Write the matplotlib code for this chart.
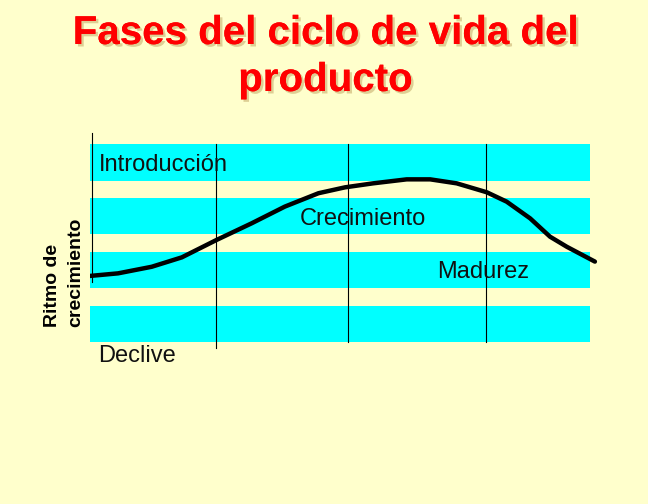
import numpy as np
import matplotlib
matplotlib.use("Agg")
import matplotlib.pyplot as plt
import matplotlib.patheffects as pe

### chart data (arbitrary units: time 0-100, growth rate 0-100)
title = "Fases del ciclo de vida del\nproducto"
ylabel = "Ritmo de\ncrecimiento"

# life cycle curve
curve_t = [0, 5.5, 12.1, 18.0, 24.8, 31.7, 38.2, 44.8, 50.0, 55.5, 62.1,
           66.7, 71.9, 77.8, 81.7, 86.3, 90.2, 93.5, 99.0]
curve_r = [37.9, 39.0, 41.8, 45.8, 53.2, 60.3, 67.4, 73.1, 75.6, 77.3, 79.0,
           79.0, 77.3, 73.5, 69.5, 62.4, 54.6, 50.3, 44.0]

# horizontal cyan bands (bottom, top)
band_lo = [78.3, 55.7, 32.8, 9.8]
band_hi = [94.0, 71.1, 48.1, 25.1]
band_end = 98.0

# phase boundaries (x, ymin, ymax)
phase_x = [0.3, 24.7, 50.6, 77.6]
phase_ymin = [35.3, 7.2, 9.8, 9.8]
phase_ymax = [98.7, 94.0, 94.0, 94.0]

# phase labels
phase_names = ["Introducción", "Crecimiento", "Madurez", "Declive"]
label_x = [1.8, 41.2, 68.0, 1.6]
label_y = [82.6, 59.6, 37.0, 1.3]

bg = "#ffffcc"
cyan = "#00ffff"

plt.rcParams["font.family"] = ["Liberation Sans", "DejaVu Sans"]

fig = plt.figure(figsize=(6.48, 5.04), dpi=100, facecolor=bg)
# axes box in figure pixels: x 90..600, y 130..365 (from top)
ax = fig.add_axes([90/648, 1-365/504, 510/648, 235/504])
ax.set_xlim(0, 100)
ax.set_ylim(0, 100)
ax.axis("off")

for lo, hi in zip(band_lo, band_hi):
    ax.fill_between([0, band_end], lo, hi, color=cyan, lw=0, zorder=1)

for x, y0, y1 in zip(phase_x, phase_ymin, phase_ymax):
    ax.plot([x, x], [y0, y1], color="black", lw=0.8, zorder=2)

ax.plot(curve_t, curve_r, color="black", lw=3.2, solid_capstyle="round",
        solid_joinstyle="round", zorder=3)

for name, x, y in zip(phase_names, label_x, label_y):
    ax.text(x, y, name, fontsize=17, color="#111111", ha="left",
            va="baseline", zorder=4)

# title with soft shadow (baseline of the last line)
fig.text(0.502, 1-91/504, title, fontsize=29, fontweight="bold",
         color="#ff0000", ha="center", va="baseline", linespacing=1.3,
         path_effects=[pe.withSimplePatchShadow(offset=(1.8, -1.8),
                                               shadow_rgbFace="#c8b070",
                                               alpha=0.6),
                       pe.Normal()])

# y label
fig.text(44/648, 1-327/504, ylabel, fontsize=14, fontweight="bold",
         color="black", rotation=90, ha="left", va="bottom",
         multialignment="left", linespacing=1.5)

fig.savefig("out.png", dpi=100, facecolor=bg)
